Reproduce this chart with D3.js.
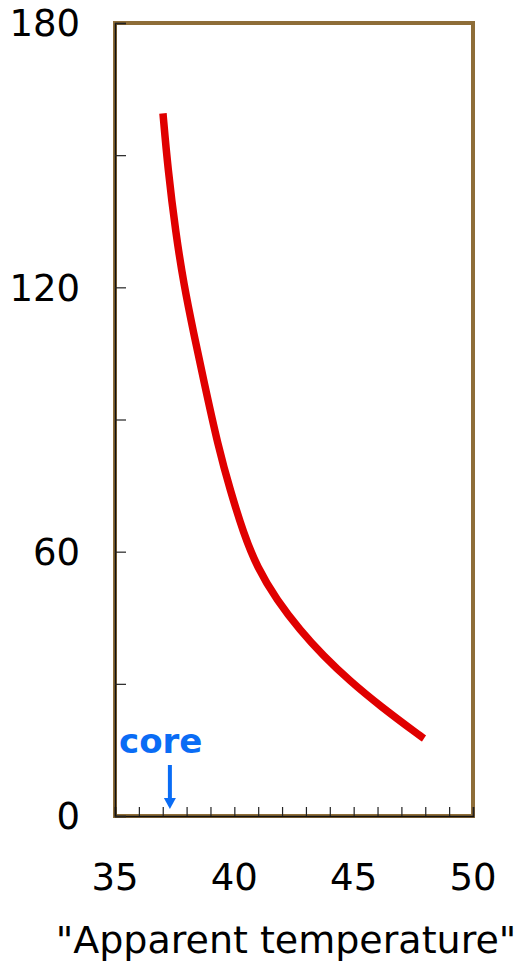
<!DOCTYPE html>
<html>
<head>
<meta charset="utf-8">
<script src="https://cdn.jsdelivr.net/npm/d3@7"></script>
<style>
  body { margin: 0; background: #fff; }
  text { font-family: "DejaVu Sans", Verdana, sans-serif; }
</style>
</head>
<body>
<svg width="522" height="963"></svg>
<script>
//data
const temps = [37.01, 37.21, 37.55, 37.88, 38.30, 38.72, 39.33, 39.83, 40.39, 40.95, 41.78, 42.75, 43.72, 44.85, 46.1, 47.78, 47.95];
const values = [159.5, 147.2, 132.1, 120.8, 109.5, 98.8, 83.7, 73.9, 64.1, 56.5, 49.0, 42.2, 36.4, 30.6, 25.0, 18.2, 17.6];
const xTicks = [35, 40, 45, 50];
const yTicks = [0, 60, 120, 180];
const coreTemp = 37.3;

//constants
const margin = {top: 23, right: 49, bottom: 147, left: 115};
const width = 522 - margin.left - margin.right;
const height = 963 - margin.top - margin.bottom;

const svg = d3.select("svg")
    .append("g")
    .attr("transform", "translate(" + margin.left + "," + margin.top + ")");

//scales
const xScale = d3.scaleLinear().domain([35, 50]).range([0, width]);
const yScale = d3.scaleLinear().domain([0, 180]).range([height, 0]);

//frame
svg.append("rect")
    .attr("x", 0).attr("y", 0)
    .attr("width", width).attr("height", height)
    .attr("fill", "none")
    .attr("stroke", "#8e6d38")
    .attr("stroke-width", 4);

//minor ticks inside
const xAxis = d3.axisTop(xScale)
    .tickValues(d3.range(35, 51, 1))
    .tickSize(9)
    .tickFormat("");
svg.append("g")
    .attr("transform", "translate(0," + height + ")")
    .call(xAxis)
    .call(g => g.select(".domain").attr("stroke", "#111").attr("stroke-width", 1.5))
    .call(g => g.selectAll(".tick line").attr("stroke", "#222").attr("stroke-width", 1.2));

const yAxis = d3.axisRight(yScale)
    .tickValues(d3.range(0, 181, 30))
    .tickSize(11)
    .tickFormat("");
svg.append("g")
    .call(yAxis)
    .call(g => g.select(".domain").attr("stroke", "#111").attr("stroke-width", 1.5))
    .call(g => g.selectAll(".tick line").attr("stroke", "#222").attr("stroke-width", 1.2));

//tick labels
svg.append("g").selectAll("text")
    .data(xTicks)
    .join("text")
    .attr("x", d => xScale(d))
    .attr("y", height + 74)
    .attr("text-anchor", "middle")
    .style("font-size", "37px")
    .text(d => d);

svg.append("g").selectAll("text")
    .data(yTicks)
    .join("text")
    .attr("x", -35)
    .attr("y", d => yScale(d))
    .attr("dy", "0.36em")
    .attr("text-anchor", "end")
    .style("font-size", "37px")
    .text(d => d);

//axis label
svg.append("text")
    .attr("x", 286 - margin.left)
    .attr("y", height + 137)
    .attr("text-anchor", "middle")
    .style("font-size", "38px")
    .text("\"Apparent temperature\"");

//curve
svg.append("path")
    .datum(temps.map((t, i) => [t, values[i]]))
    .attr("fill", "none")
    .attr("stroke", "#e00000")
    .attr("stroke-width", 7.5)
    .attr("d", d3.line()
        .x(d => xScale(d[0]))
        .y(d => yScale(d[1]))
        .curve(d3.curveBasis));

//core marker
svg.append("text")
    .attr("x", 4)
    .attr("y", 730)
    .attr("fill", "#0a6cf5")
    .style("font-size", "34px")
    .style("font-weight", "bold")
    .text("core");

svg.append("line")
    .attr("x1", xScale(coreTemp)).attr("x2", xScale(coreTemp))
    .attr("y1", 742).attr("y2", 778)
    .attr("stroke", "#0a6cf5")
    .attr("stroke-width", 4);

svg.append("path")
    .attr("d", "M" + (xScale(coreTemp) - 6) + "," + 775 + "L" + (xScale(coreTemp) + 6) + "," + 775 + "L" + xScale(coreTemp) + "," + 786 + "Z")
    .attr("fill", "#0a6cf5");
</script>
</body>
</html>
